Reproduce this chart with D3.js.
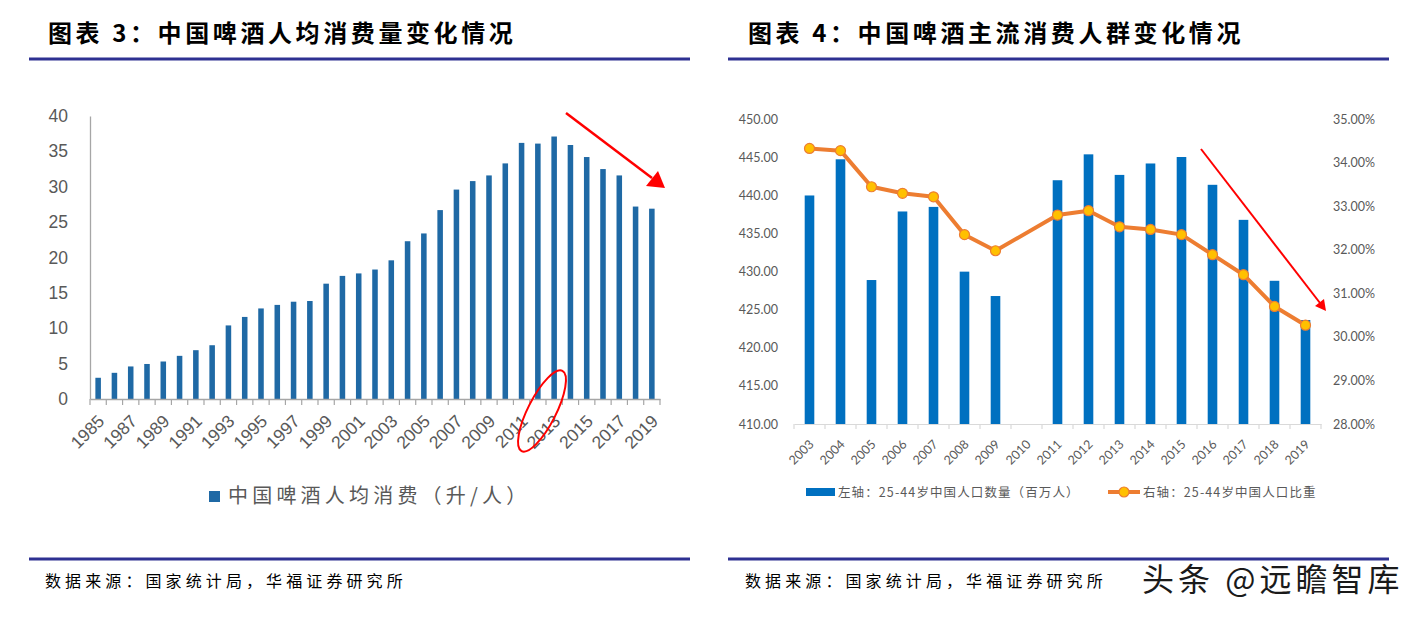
<!DOCTYPE html>
<html><head><meta charset="utf-8">
<script src="https://cdn.jsdelivr.net/npm/d3@7"></script>
<style>body{margin:0;background:#fff} svg{display:block}</style>
</head><body>
<svg id="c" width="1419" height="617"></svg>
<script>
// ---------- data: chart 3 ----------
const beerYears = ["1985","1986","1987","1988","1989","1990","1991","1992","1993","1994","1995","1996","1997","1998","1999","2000","2001","2002","2003","2004","2005","2006","2007","2008","2009","2010","2011","2012","2013","2014","2015","2016","2017","2018","2019"];
const beerPerCapita = [3.0,3.7,4.6,4.95,5.3,6.1,6.9,7.6,10.4,11.6,12.8,13.3,13.75,13.85,16.3,17.4,17.75,18.3,19.6,22.3,23.4,26.7,29.6,30.8,31.6,33.3,36.2,36.1,37.1,35.9,34.2,32.5,31.6,27.2,26.9];
const beerTicks = [0,5,10,15,20,25,30,35,40];
const beerLegend = "中国啤酒人均消费（升/人）";
const title3 = "图表 3：中国啤酒人均消费量变化情况";

// ---------- data: chart 4 ----------
const popYears = ["2003","2004","2005","2006","2007","2008","2009","2010","2011","2012","2013","2014","2015","2016","2017","2018","2019"];
const popMillions = [440.0,444.75,428.9,437.9,438.5,430.0,426.8,null,442.0,445.4,442.7,444.2,445.05,441.4,436.8,428.8,423.65];
const popShare = [34.33,34.28,33.45,33.30,33.22,32.35,31.98,null,32.80,32.90,32.53,32.47,32.35,31.89,31.43,30.70,30.27];
const popLeftTicks = [410,415,420,425,430,435,440,445,450];
const popRightTicks = [28,29,30,31,32,33,34,35];
const popLegendBar = "左轴：25-44岁中国人口数量（百万人）";
const popLegendLine = "右轴：25-44岁中国人口比重";
const title4 = "图表 4：中国啤酒主流消费人群变化情况";

const sourceText = "数据来源：国家统计局，华福证券研究所";
const watermark = "头条 @远瞻智库";

const svg = d3.select("#c");
const CJK = "'Noto Sans CJK SC','Noto Sans',sans-serif";

// ---------- frame: titles, rules, sources ----------
[[48,title3,29,690,45],[748,title4,728,1389,745]].forEach(([tx,t,x1,x2,sx])=>{
  svg.append("text").attr("x",tx).attr("y",42).text(t)
    .attr("font-family",CJK).attr("font-weight",700).attr("font-size",24)
    .attr("letter-spacing","3.6px").attr("fill","#000");
  svg.append("line").attr("x1",x1).attr("x2",x2).attr("y1",59).attr("y2",59)
    .attr("stroke","#2e3192").attr("stroke-width",3);
  svg.append("line").attr("x1",x1).attr("x2",x2).attr("y1",559).attr("y2",559)
    .attr("stroke","#2e3192").attr("stroke-width",3);
  svg.append("text").attr("x",sx).attr("y",587).text(sourceText)
    .attr("font-family",CJK).attr("font-size",16).attr("letter-spacing","4.1px").attr("fill","#000");
});
svg.append("text").attr("x",1142).attr("y",591).text(watermark)
  .attr("font-family",CJK).attr("font-size",32).attr("letter-spacing","4px")
  .attr("fill","#1a1a1a").attr("stroke","#fff").attr("stroke-width",0.6).attr("paint-order","stroke");

// ---------- chart 3 ----------
{
  const x = d3.scaleBand().domain(beerYears).range([90,660]).paddingInner(0.66).paddingOuter(0.33);
  const y = d3.scaleLinear().domain([0,40]).range([399,116]);
  const g = svg.append("g");
  const fontL = "'Liberation Sans',Arial,sans-serif";

  const ya = g.append("g").attr("transform","translate(90,0)")
    .call(d3.axisLeft(y).tickValues(beerTicks).tickSize(0).tickPadding(22).tickFormat(d3.format("d")));
  ya.select(".domain").attr("stroke","#a6a6a6").attr("stroke-width",1.3);
  ya.selectAll("text").attr("font-family",fontL).attr("font-size",17.5).attr("fill","#595959");

  g.selectAll("rect.bar").data(beerPerCapita).join("rect").attr("class","bar")
    .attr("x",(d,i)=>x(beerYears[i])).attr("width",x.bandwidth())
    .attr("y",d=>y(d)).attr("height",d=>y(0)-y(d)).attr("fill","#1f69a5");

  const xa = g.append("g").attr("transform","translate(0,399)")
    .call(d3.axisBottom(x).tickValues(beerYears.filter((d,i)=>i%2===0)).tickSize(0));
  xa.select(".domain").attr("stroke","#a6a6a6").attr("stroke-width",1.3);
  xa.selectAll("text").attr("x",0).attr("y",0).attr("dy","0.35em")
    .attr("text-anchor","end").attr("transform","translate(3,19) rotate(-45)")
    .attr("font-family",fontL).attr("font-size",17.5).attr("fill","#595959");
  // boundary tick marks
  const bounds = d3.range(beerYears.length+1).map(i=>x.range()[0]+i*x.step());
  g.selectAll("line.bt").data(bounds).join("line").attr("class","bt")
    .attr("x1",d=>d).attr("x2",d=>d).attr("y1",399).attr("y2",405)
    .attr("stroke","#a6a6a6").attr("stroke-width",1.2);

  // legend
  g.append("rect").attr("x",209).attr("y",491).attr("width",11).attr("height",11).attr("fill","#1f69a5");
  g.append("text").attr("x",228).attr("y",503).text(beerLegend)
    .attr("font-family",CJK).attr("font-size",20).attr("letter-spacing","4.2px").attr("fill","#595959");

  // annotations
  g.append("ellipse").attr("cx",0).attr("cy",0).attr("rx",45).attr("ry",14)
    .attr("transform","translate(542,411) rotate(-63)")
    .attr("fill","none").attr("stroke","#ff0000").attr("stroke-width",2);
  g.append("line").attr("x1",566).attr("y1",113).attr("x2",652).attr("y2",178)
    .attr("stroke","#ff0000").attr("stroke-width",2.5);
  g.append("path").attr("d","M665,188 L646,186 L658,171 Z").attr("fill","#ff0000");
}

// ---------- chart 4 ----------
{
  const x = d3.scaleBand().domain(popYears).range([794,1321]).paddingInner(0.69).paddingOuter(0.345);
  const yL = d3.scaleLinear().domain([410,450]).range([424,119.3]);
  const yR = d3.scaleLinear().domain([28,35]).range([424,119.3]);
  const g = svg.append("g");
  const fontC = "Lato,'Open Sans',sans-serif";

  const la = g.append("g").attr("transform","translate(794,0)")
    .call(d3.axisLeft(yL).tickValues(popLeftTicks).tickSize(0).tickPadding(16).tickFormat(d3.format(".2f")));
  la.select(".domain").remove();
  la.selectAll("text").attr("font-family",fontC).attr("font-size",12.5).attr("fill","#595959");

  const ra = g.append("g").attr("transform","translate(1321,0)")
    .call(d3.axisRight(yR).tickValues(popRightTicks).tickSize(0).tickPadding(12).tickFormat(d=>d.toFixed(2)+"%"));
  ra.select(".domain").remove();
  ra.selectAll("text").attr("font-family",fontC).attr("font-size",12.5).attr("fill","#595959");

  const bars = popYears.map((yr,i)=>({yr,v:popMillions[i]})).filter(d=>d.v!=null);
  g.selectAll("rect.bar").data(bars).join("rect").attr("class","bar")
    .attr("x",d=>x(d.yr)).attr("width",x.bandwidth())
    .attr("y",d=>yL(d.v)).attr("height",d=>yL(410)-yL(d.v)).attr("fill","#0070c0");

  const xa = g.append("g").attr("transform","translate(0,424)")
    .call(d3.axisBottom(x).tickSize(0));
  xa.select(".domain").attr("stroke","#d9d9d9").attr("stroke-width",1.2);
  xa.selectAll("text").attr("x",0).attr("y",0).attr("dy","0.35em")
    .attr("text-anchor","end").attr("transform","translate(2,18) rotate(-45)")
    .attr("font-family",fontC).attr("font-size",12.5).attr("fill","#595959");
  const bounds = d3.range(popYears.length+1).map(i=>x.range()[0]+i*x.step());
  g.selectAll("line.bt").data(bounds).join("line").attr("class","bt")
    .attr("x1",d=>d).attr("x2",d=>d).attr("y1",424).attr("y2",429)
    .attr("stroke","#d9d9d9").attr("stroke-width",1.2);

  const pts = popYears.map((yr,i)=>({yr,v:popShare[i]})).filter(d=>d.v!=null);
  const line = d3.line().x(d=>x(d.yr)+x.bandwidth()/2).y(d=>yR(d.v));
  g.append("path").datum(pts).attr("d",line).attr("fill","none")
    .attr("stroke","#ed7d31").attr("stroke-width",4).attr("stroke-linejoin","round");
  g.selectAll("circle.pt").data(pts).join("circle").attr("class","pt")
    .attr("cx",d=>x(d.yr)+x.bandwidth()/2).attr("cy",d=>yR(d.v)).attr("r",5)
    .attr("fill","#ffc000").attr("stroke","#ed7d31").attr("stroke-width",1.2);

  // legend
  g.append("rect").attr("x",806).attr("y",488).attr("width",29).attr("height",8).attr("fill","#0070c0");
  g.append("text").attr("x",838).attr("y",497).text(popLegendBar)
    .attr("font-family",CJK).attr("font-size",12.5).attr("letter-spacing","1.1px").attr("fill","#595959");
  g.append("line").attr("x1",1108).attr("x2",1140).attr("y1",492).attr("y2",492)
    .attr("stroke","#ed7d31").attr("stroke-width",4);
  g.append("circle").attr("cx",1124).attr("cy",492).attr("r",5)
    .attr("fill","#ffc000").attr("stroke","#ed7d31").attr("stroke-width",1.2);
  g.append("text").attr("x",1143).attr("y",497).text(popLegendLine)
    .attr("font-family",CJK).attr("font-size",12.5).attr("letter-spacing","1.1px").attr("fill","#595959");

  // annotation arrow
  g.append("line").attr("x1",1201).attr("y1",149).attr("x2",1320).attr("y2",303)
    .attr("stroke","#ff0000").attr("stroke-width",2);
  g.append("path").attr("d","M1326,311 L1315,306 L1324,299 Z").attr("fill","#ff0000");
}
</script>
</body></html>
